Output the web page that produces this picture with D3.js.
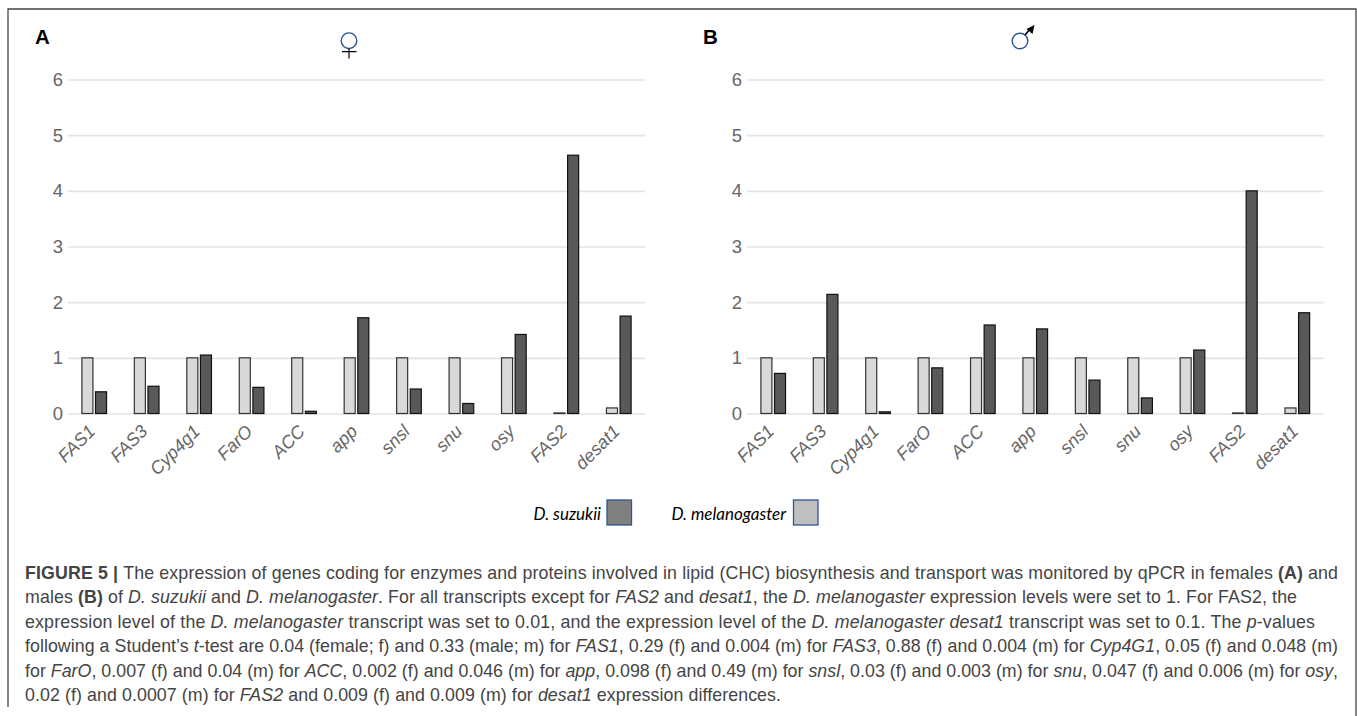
<!DOCTYPE html>
<html>
<head>
<meta charset="utf-8">
<script src="https://cdn.jsdelivr.net/npm/d3@7"></script>
<style>
  html, body { margin: 0; padding: 0; background: #fff; }
  svg { display: block; }
  .tick-y text { font: 18.5px "Liberation Sans", sans-serif; fill: #666; }
  .tick-x text { font: italic 18px "Liberation Sans", sans-serif; fill: #666; }
  .grid line { stroke: #e3e3e3; stroke-width: 1.6; }
  .caption { font: 17.8px "Liberation Sans", sans-serif; fill: #444; }
  .legend-label { font: italic 17px "Lato", sans-serif; fill: #000; }
  .panel-label { font: bold 20.5px "Liberation Sans", sans-serif; fill: #000; }
</style>
</head>
<body>
<svg id="chart" width="1357" height="716"></svg>
<script>
// genes on the x axis, same order for both panels
const genes = ['FAS1', 'FAS3', 'Cyp4g1', 'FarO', 'ACC', 'app', 'snsl', 'snu', 'osy', 'FAS2', 'desat1'];
const yTicks = [0, 1, 2, 3, 4, 5, 6];
const seriesNames = ['D. melanogaster', 'D. suzukii'];

// values
const melanogaster = [1, 1, 1, 1, 1, 1, 1, 1, 1, 0.01, 0.1];
const suzukiiFemale = [0.39, 0.49, 1.05, 0.47, 0.04, 1.72, 0.44, 0.18, 1.42, 4.64, 1.75];
const suzukiiMale = [0.72, 2.14, 0.03, 0.82, 1.59, 1.52, 0.6, 0.28, 1.14, 4.0, 1.81];

// caption, one array per printed line: [text, style]
const captionLines = [
  [['FIGURE 5 | ', 'b'], ['The expression of genes coding for enzymes and proteins involved in lipid (CHC) biosynthesis and transport was monitored by qPCR in females '], ['(A)', 'b'], [' and']],
  [['males '], ['(B)', 'b'], [' of '], ['D. suzukii', 'i'], [' and '], ['D. melanogaster', 'i'], ['. For all transcripts except for '], ['FAS2', 'i'], [' and '], ['desat1', 'i'], [', the '], ['D. melanogaster', 'i'], [' expression levels were set to 1. For FAS2, the']],
  [['expression level of the '], ['D. melanogaster', 'i'], [' transcript was set to 0.01, and the expression level of the '], ['D. melanogaster desat1', 'i'], [' transcript was set to 0.1. The '], ['p', 'i'], ['-values']],
  [['following a Student\u2019s '], ['t', 'i'], ['-test are 0.04 (female; f) and 0.33 (male; m) for '], ['FAS1', 'i'], [', 0.29 (f) and 0.004 (m) for '], ['FAS3', 'i'], [', 0.88 (f) and 0.004 (m) for '], ['Cyp4G1', 'i'], [', 0.05 (f) and 0.048 (m)']],
  [['for '], ['FarO', 'i'], [', 0.007 (f) and 0.04 (m) for '], ['ACC', 'i'], [', 0.002 (f) and 0.046 (m) for '], ['app', 'i'], [', 0.098 (f) and 0.49 (m) for '], ['snsl', 'i'], [', 0.03 (f) and 0.003 (m) for '], ['snu', 'i'], [', 0.047 (f) and 0.006 (m) for '], ['osy', 'i'], [',']],
  [['0.02 (f) and 0.0007 (m) for '], ['FAS2', 'i'], [' and 0.009 (f) and 0.009 (m) for '], ['desat1', 'i'], [' expression differences.']]
];
// where each caption line ends in the reference
const captionEnds = [1338, 1297, 1315, 1338, 1338, 781];

const svg = d3.select('#chart');

// outer frame, open at the bottom
svg.append('path')
  .attr('d', 'M8,707V9H1356V716')
  .attr('fill', 'none')
  .attr('stroke', '#444')
  .attr('stroke-width', 1.3);

const fillColor = d3.scaleOrdinal().domain(seriesNames).range(['#d9d9d9', '#595959']);
const strokeColor = d3.scaleOrdinal().domain(seriesNames).range(['#333', '#111']);
const y = d3.scaleLinear().domain([0, 6]).range([413.5, 79.5]);

function drawPanel(left, right, suzukii) {
  const x = d3.scaleBand().domain(genes).range([left, right]);
  const inner = d3.scaleBand().domain(seriesNames)
    .range([0, x.bandwidth()])
    .paddingInner(0.19)
    .paddingOuter(1.02);

  const g = svg.append('g');

  // gridlines + y labels
  g.append('g')
    .attr('class', 'grid tick-y')
    .attr('transform', `translate(${left},0)`)
    .call(d3.axisLeft(y).tickValues(yTicks).tickSize(-(right - left)).tickPadding(5).tickFormat(d3.format('d')))
    .call(a => a.select('.domain').remove());

  genes.forEach((gene, i) => {
    const rows = [
      { name: seriesNames[0], value: melanogaster[i] },
      { name: seriesNames[1], value: suzukii[i] }
    ];
    g.selectAll(null)
      .data(rows)
      .enter()
      .append('rect')
      .attr('x', d => x(gene) + inner(d.name))
      .attr('y', d => y(d.value))
      .attr('width', inner.bandwidth())
      .attr('height', d => y(0) - y(d.value))
      .attr('fill', d => fillColor(d.name))
      .attr('stroke', d => strokeColor(d.name))
      .attr('stroke-width', 1.2);
  });

  // x labels
  g.append('g')
    .attr('class', 'tick-x')
    .attr('transform', `translate(0,${y(0)})`)
    .call(d3.axisBottom(x).tickSize(0).tickPadding(0))
    .call(a => a.select('.domain').remove())
    .selectAll('text')
    .attr('text-anchor', 'end')
    .attr('dy', 0)
    .attr('y', 0)
    .attr('transform', 'translate(2,19) rotate(-45)');
}

drawPanel(68, 645, suzukiiFemale);
drawPanel(747, 1323.5, suzukiiMale);

// panel letters
svg.append('text').attr('class', 'panel-label').attr('x', 35).attr('y', 43.7).text('A');
svg.append('text').attr('class', 'panel-label').attr('x', 703).attr('y', 43.7).text('B');

// female symbol
svg.append('ellipse')
  .attr('cx', 349).attr('cy', 40.7).attr('rx', 7.8).attr('ry', 7.8)
  .attr('fill', 'none').attr('stroke', '#2f5597').attr('stroke-width', 1.4);
svg.append('path')
  .attr('d', 'M349,48.5V58.5M342,51.7H356.5')
  .attr('stroke', '#000').attr('stroke-width', 1.2);

// male symbol
svg.append('ellipse')
  .attr('cx', 1020).attr('cy', 41).attr('rx', 7.8).attr('ry', 7.8)
  .attr('fill', 'none').attr('stroke', '#2f5597').attr('stroke-width', 1.4);
svg.append('path')
  .attr('d', 'M1025,35L1030,29')
  .attr('stroke', '#000').attr('stroke-width', 1.6);
svg.append('path')
  .attr('d', 'M1034.5,25L1032.5,34L1026.5,29Z')
  .attr('fill', '#000');

// legend
const legendItems = [
  { name: 'D. suzukii', textEnd: 601, box: 607, fill: '#808080' },
  { name: 'D. melanogaster', textEnd: 786, box: 793.5, fill: '#bfbfbf' }
];
const legend = svg.append('g');
legendItems.forEach(d => {
  legend.append('text')
    .attr('class', 'legend-label')
    .attr('x', d.textEnd).attr('y', 520)
    .attr('text-anchor', 'end')
    .text(d.name);
  legend.append('rect')
    .attr('x', d.box).attr('y', 500)
    .attr('width', 24.5).attr('height', 25)
    .attr('fill', d.fill)
    .attr('stroke', '#2f5597').attr('stroke-width', 1.3);
});

// caption, each line stretched to its measured width
captionLines.forEach((parts, i) => {
  const line = svg.append('text')
    .attr('class', 'caption')
    .attr('x', 25)
    .attr('y', 579 + i * 24.4)
    .attr('textLength', captionEnds[i] - 25)
    .attr('lengthAdjust', 'spacing');
  parts.forEach(part => {
    line.append('tspan')
      .attr('font-weight', part[1] === 'b' ? 'bold' : null)
      .attr('font-style', part[1] === 'i' ? 'italic' : null)
      .text(part[0]);
  });
});
</script>
</body>
</html>
